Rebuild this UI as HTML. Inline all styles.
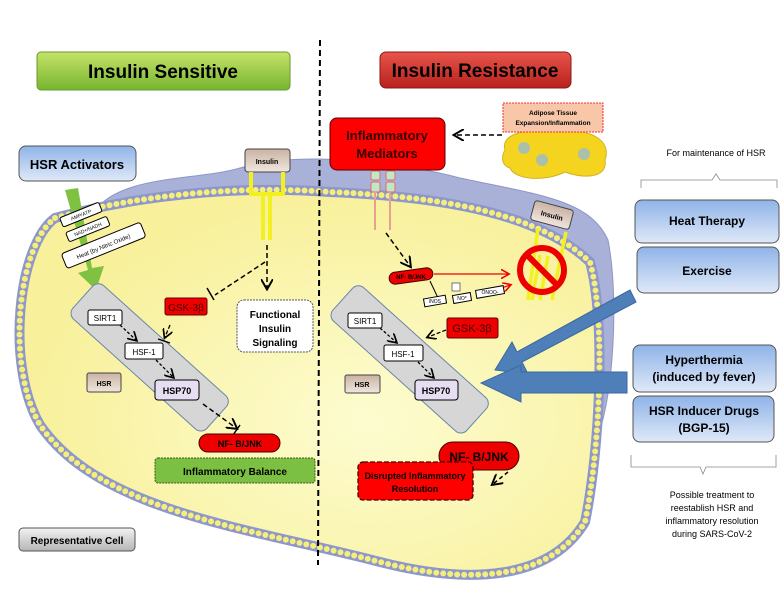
<!DOCTYPE html>
<html><head><meta charset="utf-8"><style>
html,body{margin:0;padding:0;background:#fff}
svg{display:block;font-family:"Liberation Sans",sans-serif}
</style></head><body>
<svg width="784" height="606" viewBox="0 0 784 606" xmlns="http://www.w3.org/2000/svg">
<defs>
<linearGradient id="gg" x1="0" y1="0" x2="0" y2="1"><stop offset="0" stop-color="#c6e36a"/><stop offset="1" stop-color="#77b52f"/></linearGradient>
<linearGradient id="rg" x1="0" y1="0" x2="0" y2="1"><stop offset="0" stop-color="#e8554c"/><stop offset="1" stop-color="#b8201c"/></linearGradient>
<linearGradient id="bg" x1="0" y1="0" x2="0" y2="1"><stop offset="0" stop-color="#8fb3e8"/><stop offset="1" stop-color="#dfe9f8"/></linearGradient>
<linearGradient id="br" x1="0" y1="0" x2="0" y2="1"><stop offset="0" stop-color="#c9b3a4"/><stop offset="1" stop-color="#f1e6dd"/></linearGradient>
<linearGradient id="gr" x1="0" y1="0" x2="0" y2="1"><stop offset="0" stop-color="#f2f2f2"/><stop offset="1" stop-color="#b5b5b5"/></linearGradient>
<radialGradient id="cy" cx="0.6" cy="0.6" r="0.6"><stop offset="0" stop-color="#fdfcd0"/><stop offset="1" stop-color="#f8f09a"/></radialGradient>
<marker id="ah" markerWidth="8" markerHeight="8" refX="6" refY="4" orient="auto"><path d="M0,0 L7,4 L0,8" fill="none" stroke="#000" stroke-width="1.3"/></marker>
<marker id="ra" markerWidth="8" markerHeight="8" refX="6" refY="4" orient="auto"><path d="M0,0 L7,4 L0,8" fill="none" stroke="#e00" stroke-width="1.3"/></marker>
</defs>

<!-- ER blob -->
<path d="M100,205 C130,175 200,180 240,168 C300,150 400,162 460,178 C540,195 590,200 608,240 C618,290 615,380 600,430 L520,300 Z" fill="#a9b1d8" stroke="#8e97c4"/>
<!-- cell -->
<path id="cell" d="M55,218 C150,192 250,186 330,192 C450,197 540,215 590,262 C606,320 600,450 585,522 C550,580 470,585 380,562 C250,528 100,512 40,425 C5,365 18,245 55,218 Z" fill="url(#cy)" stroke="#8e97cc" stroke-width="10"/>
<path d="M55,218 C150,192 250,186 330,192 C450,197 540,215 590,262 C606,320 600,450 585,522 C550,580 470,585 380,562 C250,528 100,512 40,425 C5,365 18,245 55,218 Z" fill="none" stroke="#f6ee7a" stroke-width="6" stroke-dasharray="0 7" stroke-linecap="round"/>

<!-- divider -->
<line x1="320" y1="40" x2="318" y2="565" stroke="#000" stroke-width="2" stroke-dasharray="6 4"/>

<!-- titles -->
<rect x="37" y="52" width="253" height="38" rx="4" fill="url(#gg)" stroke="#6a9a2a"/>
<text x="163" y="78" text-anchor="middle" font-size="19" font-weight="bold">Insulin Sensitive</text>
<rect x="380" y="52" width="191" height="36" rx="6" fill="url(#rg)" stroke="#8a1a14"/>
<text x="475" y="77" text-anchor="middle" font-size="19" font-weight="bold">Insulin Resistance</text>

<!-- HSR activators -->
<rect x="19" y="146" width="117" height="35" rx="7" fill="url(#bg)" stroke="#555"/>
<text x="77" y="169" text-anchor="middle" font-size="13" font-weight="bold">HSR Activators</text>
<path d="M65,190 L78,188 L92,268 L104,266 L96,290 L78,273 L88,270 Z" fill="#7fc241"/>
<g transform="rotate(-22 80 215)" font-size="5">
<rect x="60" y="210" width="42" height="10" rx="2" fill="#fff" stroke="#000"/><text x="81" y="217" text-anchor="middle">AMP/ATP</text>
<rect x="60" y="226" width="44" height="10" rx="2" fill="#fff" stroke="#000"/><text x="82" y="233" text-anchor="middle">NAD+/NADH</text>
<rect x="48" y="244" width="85" height="16" rx="3" fill="#fff" stroke="#000"/><text x="90" y="255" text-anchor="middle" font-size="6">Heat (by   Nitric Oxide)</text>
</g>

<!-- left insulin -->
<rect x="245" y="149" width="45" height="23" rx="3" fill="url(#br)" stroke="#444"/>
<text x="267" y="164" text-anchor="middle" font-size="7" font-weight="bold">Insulin</text>
<path d="M251,172 V194 H283 V172" fill="none" stroke="#f3f020" stroke-width="4"/>
<path d="M263,194 V240 M270,194 V240" stroke="#f3f020" stroke-width="4"/>
<path d="M267,245 L267,288" stroke="#000" stroke-width="1.5" stroke-dasharray="5 3" marker-end="url(#ah)"/>
<path d="M265,262 L215,295" stroke="#000" stroke-width="1.5" stroke-dasharray="5 3"/>
<line x1="207" y1="288" x2="214" y2="300" stroke="#000" stroke-width="1.5"/>
<rect x="165" y="298" width="42" height="17" rx="2" fill="#e00" stroke="#600"/>
<text x="186" y="311" text-anchor="middle" font-size="10" fill="#400">GSK-3β</text>
<rect x="237" y="300" width="76" height="52" rx="7" fill="#fff" stroke="#555" stroke-dasharray="2 1"/>
<text x="275" y="318" text-anchor="middle" font-size="10" font-weight="bold">Functional</text>
<text x="275" y="332" text-anchor="middle" font-size="10" font-weight="bold">Insulin</text>
<text x="275" y="346" text-anchor="middle" font-size="10" font-weight="bold">Signaling</text>

<!-- left pathway -->
<rect x="60" y="335" width="180" height="45" rx="8" fill="#d6d6d6" stroke="#6a86a8" transform="rotate(42 150 357)"/>
<rect x="88" y="310" width="34" height="15" rx="2" fill="#fff" stroke="#000"/><text x="105" y="321" text-anchor="middle" font-size="8">SIRT1</text>
<rect x="125" y="343" width="38" height="16" rx="2" fill="#fff" stroke="#000"/><text x="144" y="355" text-anchor="middle" font-size="8">HSF-1</text>
<rect x="155" y="380" width="44" height="20" rx="3" fill="#e6def2" stroke="#000"/><text x="177" y="394" text-anchor="middle" font-size="9" font-weight="bold">HSP70</text>
<path d="M120,325 L136,340" stroke="#000" stroke-width="1.3" stroke-dasharray="3 2" marker-end="url(#ah)"/>
<path d="M156,360 L173,377" stroke="#000" stroke-width="1.3" stroke-dasharray="3 2" marker-end="url(#ah)"/>
<path d="M170,325 L165,337" stroke="#000" stroke-width="1.3" stroke-dasharray="4 2" marker-end="url(#ah)"/>
<line x1="158" y1="339" x2="170" y2="343" stroke="#000" stroke-width="1.3"/>
<rect x="87" y="373" width="34" height="19" rx="2" fill="url(#br)" stroke="#444"/><text x="104" y="386" text-anchor="middle" font-size="7" font-weight="bold">HSR</text>
<path d="M203,404 L236,428" stroke="#000" stroke-width="1.5" stroke-dasharray="5 3" marker-end="url(#ah)"/>
<line x1="233" y1="435" x2="240" y2="425" stroke="#000" stroke-width="1.5"/>
<rect x="199" y="434" width="81" height="18" rx="9" fill="#e00" stroke="#400"/>
<text x="240" y="447" text-anchor="middle" font-size="9" font-weight="bold">NF- B/JNK</text>
<rect x="155" y="458" width="160" height="25" rx="3" fill="#7cc043" stroke="#3a5a1a" stroke-dasharray="2 1"/>
<text x="235" y="475" text-anchor="middle" font-size="10" font-weight="bold">Inflammatory Balance</text>
<rect x="19" y="528" width="116" height="23" rx="4" fill="url(#gr)" stroke="#555"/>
<text x="77" y="544" text-anchor="middle" font-size="10" font-weight="bold">Representative Cell</text>

<!-- right side -->
<rect x="330" y="118" width="115" height="52" rx="7" fill="#f00" stroke="#500"/>
<text x="387" y="140" text-anchor="middle" font-size="13" font-weight="bold" fill="#300">Inflammatory</text>
<text x="387" y="158" text-anchor="middle" font-size="13" font-weight="bold" fill="#300">Mediators</text>
<path d="M502,135 L455,135" stroke="#000" stroke-width="1.5" stroke-dasharray="5 3" marker-end="url(#ah)"/>
<path d="M505,150 C500,132 530,128 560,132 C590,128 612,140 605,160 C608,180 580,178 565,172 C545,182 515,180 510,168 C500,165 502,155 505,150 Z" fill="#f5d420" stroke="#d4b020"/>
<circle cx="524" cy="148" r="6" fill="#aac0aa"/><circle cx="542" cy="160" r="6" fill="#aac0aa"/><circle cx="584" cy="154" r="6" fill="#aac0aa"/>
<rect x="503" y="103" width="100" height="29" fill="#f8c6a8" stroke="#e33" stroke-dasharray="2 1"/>
<text x="553" y="115" text-anchor="middle" font-size="6.5" font-weight="bold">Adipose Tissue</text>
<text x="553" y="125" text-anchor="middle" font-size="6.5" font-weight="bold">Expansion/Inflammation</text>
<!-- receptors -->
<g fill="#bfe8c8" stroke="#e66">
<rect x="371" y="171" width="9" height="9" rx="2"/><rect x="371" y="182" width="9" height="10" rx="2"/>
<rect x="386" y="171" width="9" height="9" rx="2"/><rect x="386" y="182" width="9" height="10" rx="2"/>
</g>
<path d="M375,192 V230 M390,192 V230" stroke="#e8a090" stroke-width="2"/>
<path d="M386,233 L410,266" stroke="#000" stroke-width="1.5" stroke-dasharray="5 3" marker-end="url(#ah)"/>
<rect x="389" y="270" width="44" height="12" rx="6" fill="#e00" stroke="#400" transform="rotate(-8 411 276)"/>
<text x="411" y="279" text-anchor="middle" font-size="6" font-weight="bold">NF- B/JNK</text>
<path d="M434,274 L508,274" stroke="#e00" stroke-width="1.2" marker-end="url(#ra)"/>
<path d="M484,294 L510,285" stroke="#e00" stroke-width="1.2" marker-end="url(#ra)"/>
<path d="M430,281 L438,298" stroke="#000"/>
<g font-size="5" text-anchor="middle">
<rect x="424" y="297" width="22" height="8" fill="#fff" stroke="#000" transform="rotate(-10 435 301)"/><text x="435" y="303">iNOS</text>
<rect x="453" y="294" width="18" height="8" fill="#fff" stroke="#000" transform="rotate(-10 462 298)"/><text x="462" y="300">NO*</text>
<rect x="476" y="288" width="28" height="8" fill="#fff" stroke="#000" transform="rotate(-10 490 292)"/><text x="490" y="294">ONOO-</text>
<rect x="452" y="283" width="8" height="8" fill="#fff" stroke="#777"/>
</g>
<!-- right insulin -->
<rect x="532" y="205" width="40" height="20" rx="3" fill="url(#br)" stroke="#444" transform="rotate(15 552 215)"/>
<text x="552" y="218" text-anchor="middle" font-size="7" font-weight="bold" transform="rotate(15 552 215)">Insulin</text>
<path d="M538,228 L528,300 M566,232 L552,300" stroke="#f3f020" stroke-width="3.5"/>
<path d="M540,255 L532,300 M548,256 L540,300" stroke="#f3f020" stroke-width="3.5"/>
<circle cx="542" cy="270" r="22" fill="none" stroke="#e00" stroke-width="6"/>
<line x1="527" y1="255" x2="557" y2="285" stroke="#e00" stroke-width="6"/>

<!-- right pathway -->
<rect x="320" y="337" width="180" height="45" rx="8" fill="#d6d6d6" stroke="#6a86a8" transform="rotate(42 410 359)"/>
<rect x="348" y="313" width="34" height="15" rx="2" fill="#fff" stroke="#000"/><text x="365" y="324" text-anchor="middle" font-size="8">SIRT1</text>
<rect x="384" y="345" width="39" height="16" rx="2" fill="#fff" stroke="#000"/><text x="403" y="357" text-anchor="middle" font-size="8">HSF-1</text>
<rect x="415" y="380" width="43" height="20" rx="3" fill="#e6def2" stroke="#000"/><text x="436" y="394" text-anchor="middle" font-size="9" font-weight="bold">HSP70</text>
<path d="M380,328 L396,342" stroke="#000" stroke-width="1.3" stroke-dasharray="3 2" marker-end="url(#ah)"/>
<path d="M418,362 L433,377" stroke="#000" stroke-width="1.3" stroke-dasharray="3 2" marker-end="url(#ah)"/>
<path d="M446,330 L428,337" stroke="#000" stroke-width="1.3" stroke-dasharray="4 2" marker-end="url(#ah)"/>
<rect x="345" y="375" width="35" height="18" rx="2" fill="url(#br)" stroke="#444"/><text x="362" y="387" text-anchor="middle" font-size="7" font-weight="bold">HSR</text>
<rect x="447" y="318" width="51" height="20" rx="2" fill="#e00" stroke="#600"/>
<text x="472" y="332" text-anchor="middle" font-size="11" fill="#400">GSK-3β</text>
<rect x="439" y="442" width="80" height="28" rx="14" fill="#e00" stroke="#400"/>
<text x="479" y="461" text-anchor="middle" font-size="12" font-weight="bold">NF- B/JNK</text>
<path d="M508,472 L493,484" stroke="#000" stroke-width="1.5" stroke-dasharray="4 3" marker-end="url(#ah)"/>
<rect x="358" y="462" width="115" height="38" rx="5" fill="#f00" stroke="#400" stroke-width="1.3" stroke-dasharray="5 2"/>
<text x="415" y="479" text-anchor="middle" font-size="9" font-weight="bold">Disrupted Inflammatory</text>
<text x="415" y="492" text-anchor="middle" font-size="9" font-weight="bold">Resolution</text>

<!-- blue arrows -->
<path d="M630,290 L636,302 L522,362 L528,374 L495,370 L512,342 L517,352 Z" fill="#4f7fb8" stroke="#3a6aa0"/>
<path d="M627,372 L627,393 L521,393 L521,402 L481,383 L521,365 L521,372 Z" fill="#4f7fb8" stroke="#3a6aa0"/>

<!-- right panel -->
<text x="716" y="156" text-anchor="middle" font-size="9">For maintenance of HSR</text>
<path d="M641,188 V180 H712 L716,174 L720,180 H777 V188" fill="none" stroke="#888" stroke-width="0.8"/>
<rect x="635" y="200" width="144" height="43" rx="7" fill="url(#bg)" stroke="#555"/>
<text x="707" y="225" text-anchor="middle" font-size="12" font-weight="bold">Heat Therapy</text>
<rect x="637" y="247" width="142" height="46" rx="7" fill="url(#bg)" stroke="#555"/>
<text x="707" y="275" text-anchor="middle" font-size="12" font-weight="bold">Exercise</text>
<rect x="633" y="345" width="143" height="47" rx="7" fill="url(#bg)" stroke="#555"/>
<text x="704" y="364" text-anchor="middle" font-size="12" font-weight="bold">Hyperthermia</text>
<text x="704" y="381" text-anchor="middle" font-size="12" font-weight="bold">(induced by fever)</text>
<rect x="633" y="396" width="141" height="46" rx="7" fill="url(#bg)" stroke="#555"/>
<text x="704" y="415" text-anchor="middle" font-size="12" font-weight="bold">HSR Inducer Drugs</text>
<text x="704" y="432" text-anchor="middle" font-size="12" font-weight="bold">(BGP-15)</text>
<path d="M631,455 V467 H700 L703,474 L706,467 H776 V455" fill="none" stroke="#888" stroke-width="0.8"/>
<g font-size="9" text-anchor="middle">
<text x="712" y="498">Possible treatment to</text>
<text x="712" y="511">reestablish HSR and</text>
<text x="712" y="524">inflammatory resolution</text>
<text x="712" y="537">during SARS-CoV-2</text>
</g>
</svg>
</body></html>
